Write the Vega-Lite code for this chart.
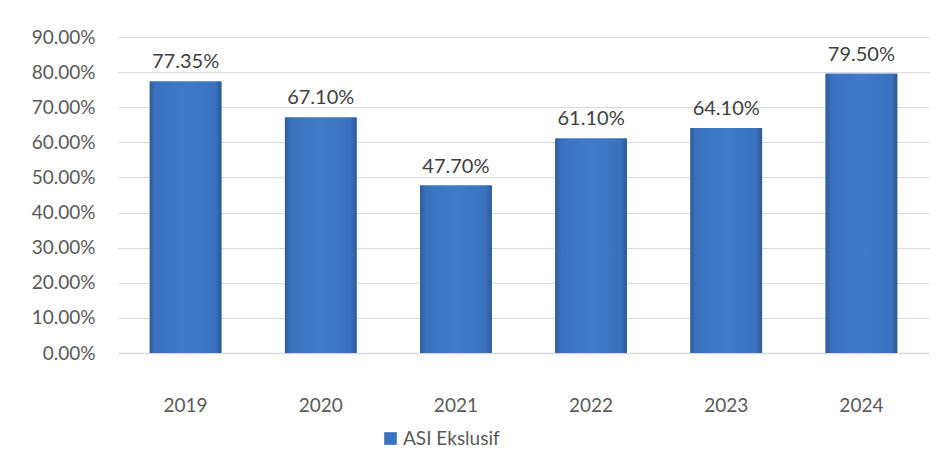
{
  "$schema": "https://vega.github.io/schema/vega-lite/v6.json",
  "autosize": "none",
  "width": 811,
  "height": 316,
  "padding": {"left": 118, "top": 37, "right": 18, "bottom": 117},
  "background": "white",
  "config": {
    "font": "Lato",
    "view": {"stroke": null},
    "axis": {"labelFont": "Lato", "labelColor": "#595959", "labelFontSize": 19, "ticks": false, "title": null}
  },
  "data": {
    "values": [
      {"year": "2019", "value": 0.7735, "series": "ASI Ekslusif"},
      {"year": "2020", "value": 0.671, "series": "ASI Ekslusif"},
      {"year": "2021", "value": 0.477, "series": "ASI Ekslusif"},
      {"year": "2022", "value": 0.611, "series": "ASI Ekslusif"},
      {"year": "2023", "value": 0.641, "series": "ASI Ekslusif"},
      {"year": "2024", "value": 0.795, "series": "ASI Ekslusif"}
    ]
  },
  "encoding": {
    "x": {
      "field": "year", "type": "nominal",
      "scale": {"paddingInner": 0.47, "paddingOuter": 0.235},
      "axis": {"labelAngle": 0, "labelPadding": 43, "domainColor": "#d9d9d9", "domainWidth": 1.5, "grid": false}
    },
    "y": {
      "field": "value", "type": "quantitative",
      "scale": {"domain": [0, 0.9], "nice": false},
      "axis": {"format": ".2%", "values": [0, 0.1, 0.2, 0.3, 0.4, 0.5, 0.6, 0.7, 0.8, 0.9], "domain": false, "gridColor": "#d9d9d9", "gridWidth": 1.2, "labelPadding": 23}
    }
  },
  "layer": [
    {
      "mark": {"type": "bar"},
      "encoding": {
        "color": {
          "field": "series", "type": "nominal",
          "scale": {"range": ["#3a72c0"]},
          "legend": {"orient": "none", "legendX": 263, "legendY": 392, "direction": "horizontal", "title": null, "symbolType": "square", "symbolSize": 160, "labelFontSize": 19, "labelColor": "#595959", "labelFont": "Lato", "symbolStrokeWidth": 0, "labelOffset": 3}
        }
      }
    },
    {
      "mark": {
        "type": "bar",
        "fill": {
          "gradient": "linear", "x1": 0, "y1": 0, "x2": 1, "y2": 0,
          "stops": [
            {"offset": 0, "color": "#2d5b9a"},
            {"offset": 0.08, "color": "#3a72bf"},
            {"offset": 0.5, "color": "#3f7ac8"},
            {"offset": 0.92, "color": "#3a72bf"},
            {"offset": 1, "color": "#2b5792"}
          ]
        }
      }
    },
    {
      "mark": {"type": "text", "baseline": "bottom", "dy": -9, "fontSize": 20, "color": "#404040", "font": "Lato"},
      "encoding": {"text": {"field": "value", "type": "quantitative", "format": ".2%"}}
    }
  ]
}
